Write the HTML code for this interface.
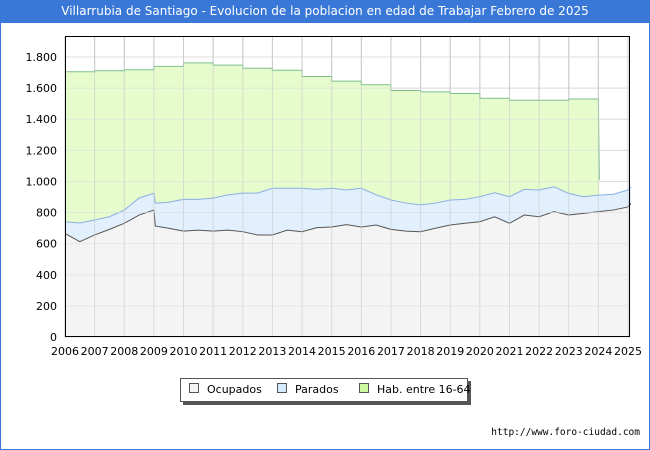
<!DOCTYPE html>
<html><head><meta charset="utf-8"><style>
body{margin:0;width:650px;height:450px;overflow:hidden;background:#fff;font-family:"DejaVu Sans","Liberation Sans",sans-serif}
#wrap{position:absolute;left:0;top:0;width:648px;height:448px;border:1px solid #3a78d8;background:#fff}
#title{position:absolute;left:0;top:0;width:650px;height:23px;background:#3a78d8;color:#fff;font-size:12px;line-height:23px;text-align:center;white-space:nowrap}
</style></head><body>
<div id="wrap"></div>
<div id="title">Villarrubia de Santiago - Evolucion de la poblacion en edad de Trabajar Febrero de 2025</div>
<svg id="chart" width="650" height="450" style="position:absolute;left:0;top:0"></svg>
<script>
const habYears=[2006,2007,2008,2009,2010,2011,2012,2013,2014,2015,2016,2017,2018,2019,2020,2021,2022,2023];
const habValues=[1705,1712,1718,1740,1762,1748,1728,1715,1675,1645,1622,1585,1576,1565,1535,1522,1522,1530];
const habEnd=2024.0;
const times=[2006,2006.5,2007,2007.5,2008,2008.5,2009,2009.05,2009.5,2010,2010.5,2011,2011.5,2012,2012.5,2013,2013.5,2014,2014.5,2015,2015.5,2016,2016.5,2017,2017.5,2018,2018.5,2019,2019.5,2020,2020.5,2021,2021.5,2022,2022.5,2023,2023.5,2024,2024.5,2025,2025.1];
const totalValues=[741,733,752,773,816,893,925,861,866,885,885,893,914,925,925,956,956,956,949,956,945,956,914,881,861,849,861,881,885,902,927,902,949,945,966,923,902,912,918,945,966];
const ocupValues=[666,613,656,692,731,784,816,713,699,681,687,681,687,677,656,656,687,677,703,707,722,707,720,692,681,677,699,720,731,741,773,731,784,773,806,784,795,806,816,836,859];
const yTicks=[0,200,400,600,800,1000,1200,1400,1600,1800];
const yTickLabels=["0","200","400","600","800","1.000","1.200","1.400","1.600","1.800"];
const xTicks=[2006,2007,2008,2009,2010,2011,2012,2013,2014,2015,2016,2017,2018,2019,2020,2021,2022,2023,2024,2025];

const L=65,R=630,T=36,B=337;
const X=t=>L+(t-2006)*(628-65)/19;
const Y=v=>B-v*(280/1800);
const NS="http://www.w3.org/2000/svg";
const svg=document.getElementById('chart');
function mk(tag,attrs,parent){const e=document.createElementNS(NS,tag);for(const k in attrs)e.setAttribute(k,attrs[k]);(parent||svg).appendChild(e);return e;}

mk('rect',{x:L,y:T,width:R-L,height:B-T,fill:'#fff'});
yTicks.forEach((v,i)=>{
 const g=mk('line',{x1:L,x2:R,y1:Y(v),y2:Y(v),stroke:'#dcdcdc','stroke-width':1});
 
 
 const t=mk('text',{x:57,y:Y(v)+4,'text-anchor':'end','font-size':11,fill:'#000'});
 t.textContent=yTickLabels[i];
 
 
});
xTicks.forEach(yr=>{
 const g=mk('line',{x1:X(yr),x2:X(yr),y1:T,y2:B,stroke:'#cccccc','stroke-width':1});
 
 
 const t=mk('text',{x:X(yr),y:355,'text-anchor':'middle','font-size':11,fill:'#000'});
 t.textContent=String(yr);
 
 
});
let hp=[];
habYears.forEach((yr,i)=>{const nx=i<habYears.length-1?habYears[i+1]:habEnd;hp.push([X(yr),Y(habValues[i])],[X(nx),Y(habValues[i])]);});
const last=hp[hp.length-1];
let habPts=hp.concat([[last[0]+1,Y(1010)],[last[0]+1,B],[X(2006),B]]);
const ha=mk('polygon',{points:habPts.map(p=>p.join(',')).join(' '),fill:'#e6fccc'});


const hl=mk('polyline',{points:hp.concat([[last[0]+1,Y(1010)]]).map(p=>p.join(',')).join(' '),fill:'none',stroke:'#7cc08c','stroke-width':1});


const tp=times.map((t,i)=>[X(t),Y(totalValues[i])]);
const pa=mk('polygon',{points:tp.concat([[X(times[times.length-1]),B],[X(2006),B]]).map(p=>p.join(',')).join(' '),fill:'#e2f0fe'});


const pl=mk('polyline',{points:tp.map(p=>p.join(',')).join(' '),fill:'none',stroke:'#8aaee6','stroke-width':1});


const op=times.map((t,i)=>[X(t),Y(ocupValues[i])]);
const oa=mk('polygon',{points:op.concat([[X(times[times.length-1]),B],[X(2006),B]]).map(p=>p.join(',')).join(' '),fill:'#f4f4f4'});


const ol=mk('polyline',{points:op.map(p=>p.join(',')).join(' '),fill:'none',stroke:'#555','stroke-width':1});


yTicks.forEach(v=>{mk('line',{x1:L,x2:R,y1:Y(v),y2:Y(v),stroke:'#dcdcdc','stroke-width':1,'stroke-opacity':0.6});});
xTicks.forEach(yr=>{mk('line',{x1:X(yr),x2:X(yr),y1:T,y2:B,stroke:'#c8c8c8','stroke-width':1,'stroke-opacity':0.6});});
const fr=mk('rect',{x:L+0.5,y:T+0.5,width:R-L-1,height:B-T-1,fill:'none',stroke:'#000','stroke-width':1});


</script>
<div style="position:absolute;left:180px;top:378px;width:286px;height:22px;border:1px solid #555;background:#fff;box-shadow:3px 3px 0 #555;font-size:11px;line-height:22px;white-space:nowrap">
 <span style="position:absolute;left:8px"><span style="display:inline-block;width:8px;height:8px;border:1px solid #555;background:#f4f4f4;margin-right:8px"></span>Ocupados</span>
 <span style="position:absolute;left:96px"><span style="display:inline-block;width:8px;height:8px;border:1px solid #555;background:#d6eafe;margin-right:8px"></span>Parados</span>
 <span style="position:absolute;left:178px"><span style="display:inline-block;width:8px;height:8px;border:1px solid #555;background:#ccf8a0;margin-right:8px"></span>Hab. entre 16-64</span>
</div>
<div style="position:absolute;right:10px;top:427px;font-size:9.5px;font-family:'DejaVu Sans Mono','Liberation Mono',monospace">http://www.foro-ciudad.com</div>
</body></html>
